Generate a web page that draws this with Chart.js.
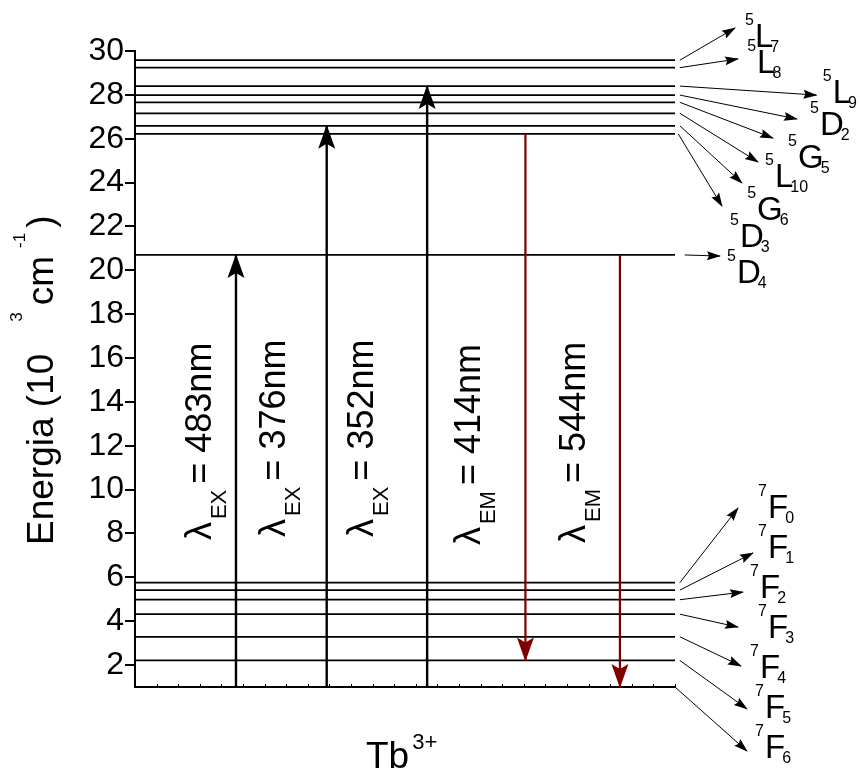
<!DOCTYPE html>
<html>
<head>
<meta charset="utf-8">
<title>Tb3+ energy levels</title>
<script src="https://cdn.jsdelivr.net/npm/chart.js@4.4.1/dist/chart.umd.min.js"></script>
<style>
  html, body { margin: 0; padding: 0; background: #fff; }
  canvas { display: block; }
</style>
</head>
<body>
<canvas id="levels" width="860" height="769"></canvas>
<script>
const FONT = '"Liberation Sans", Arial, sans-serif';
const RED = "#800000";

// Tb3+ levels, energy in 10^3 cm^-1, with term symbol parts
const levelEnergy = [29.58, 29.24, 28.40, 27.99, 27.66, 27.16, 26.59, 26.22, 20.70,
                     5.76, 5.42, 4.98, 4.32, 3.29, 2.21, 1.00];
const levelSpin = ["5", "5", "5", "5", "5", "5", "5", "5", "5",
                   "7", "7", "7", "7", "7", "7", "7"];
const levelLetter = ["L", "L", "L", "D", "G", "L", "G", "D", "D",
                     "F", "F", "F", "F", "F", "F", "F"];
const levelJ = ["7", "8", "9", "2", "5", "10", "6", "3", "4",
                "0", "1", "2", "3", "4", "5", "6"];

// excitation (up) and emission (down) transitions
const transNm = ["483nm", "376nm", "352nm", "414nm", "544nm"];
const transType = ["EX", "EX", "EX", "EM", "EM"];
const transX = [18.7, 35.5, 54.1, 72.3, 89.8];
const transFrom = [1.00, 1.00, 1.00, 26.22, 20.70];
const transTo = [20.70, 26.59, 28.40, 2.21, 1.00];

const yTicks = [2, 4, 6, 8, 10, 12, 14, 16, 18, 20, 22, 24, 26, 28, 30];

// label placement, in axis units (x beyond 100 is right of the levels)
const termLabelAt = [
  [114.8, 30.18], [115.2, 29.00], [129.2, 27.63], [126.85, 26.17], [122.78, 24.66],
  [118.52, 23.80], [115.19, 22.29], [112.04, 21.06], [111.48, 19.42],
  [117.22, 8.70], [117.22, 6.88], [115.74, 5.06], [117.22, 3.23],
  [115.74, 1.41], [116.67, -0.41], [116.67, -2.24]
];
const leaderTip = [
  [111.11, 31.05], [111.67, 29.64], [126.2, 27.99], [122.59, 26.90], [118.15, 26.03],
  [115.37, 24.94], [112.41, 23.98], [108.70, 22.93], [108.33, 20.65],
  [111.67, 9.16], [114.44, 7.11], [112.59, 5.33], [111.67, 3.73],
  [112.22, 1.96], [113.33, 0.00], [113.33, -1.92]
];
const leaderStartX = [100.9, 100.9, 100.9, 100.9, 100.9, 100.9, 100.9, 100.6, 101.8,
                      100.9, 100.9, 100.9, 100.9, 100.9, 100.9, 100.0];
const transLabelAt = [[14.07, 7.70], [27.78, 7.84], [44.07, 7.84], [63.89, 7.47], [83.33, 7.57]];

Chart.defaults.font.family = FONT;
Chart.defaults.color = "#000";

function drawRich(ctx, x, y, parts, angle) {
  ctx.save();
  ctx.translate(x, y);
  ctx.rotate(angle || 0);
  ctx.textBaseline = "alphabetic";
  ctx.textAlign = "left";
  let cx = 0;
  for (const p of parts) {
    ctx.font = p.size + "px " + FONT;
    cx += p.gap || 0;
    ctx.fillText(p.t, cx, p.dy || 0);
    cx += ctx.measureText(p.t).width;
  }
  ctx.restore();
}

function arrowHead(ctx, x0, y0, x1, y1, len, half, notch, color) {
  const d = Math.hypot(x1 - x0, y1 - y0);
  const ux = (x1 - x0) / d, uy = (y1 - y0) / d;
  const nx = -uy, ny = ux;
  const tx = x1 + ux, ty = y1 + uy;
  const bx = tx - ux * len, by = ty - uy * len;
  ctx.save();
  ctx.fillStyle = color;
  ctx.beginPath();
  ctx.moveTo(tx, ty);
  ctx.lineTo(bx + nx * half, by + ny * half);
  ctx.lineTo(tx - ux * (len - notch), ty - uy * (len - notch));
  ctx.lineTo(bx - nx * half, by - ny * half);
  ctx.closePath();
  ctx.fill();
  ctx.restore();
}

const diagram = {
  id: "diagram",
  afterDraw(chart) {
    const { ctx, chartArea: area, scales: { x, y } } = chart;

    // small inward ticks along the bottom axis
    ctx.save();
    ctx.strokeStyle = "#000";
    ctx.lineWidth = 1;
    x.ticks.forEach(t => {
      const px = Math.round(x.getPixelForValue(t.value)) + 0.5;
      ctx.beginPath();
      ctx.moveTo(px, area.bottom);
      ctx.lineTo(px, area.bottom - 3);
      ctx.stroke();
    });
    ctx.restore();

    // heads of the transition arrows
    transX.forEach((_, i) => {
      const pts = chart.getDatasetMeta(i).data;
      const col = transType[i] === "EM" ? RED : "#000";
      arrowHead(ctx, pts[0].x, pts[0].y, pts[1].x, pts[1].y, 24, 8.5, 5, col);
    });

    // wavelength labels, written upward
    ctx.fillStyle = "#000";
    transNm.forEach((nm, i) => {
      const [ax, ay] = transLabelAt[i];
      drawRich(ctx, x.getPixelForValue(ax), y.getPixelForValue(ay), [
        { t: "\u03bb", size: 36 },
        { t: transType[i], size: 22, dy: 15, gap: 3 },
        { t: "=", size: 36, gap: 6 },
        { t: nm, size: 36, gap: 10 }
      ], -Math.PI / 2);
    });

    // leaders from each level to its term symbol
    levelEnergy.forEach((e, i) => {
      const sx = x.getPixelForValue(leaderStartX[i]);
      const sy = y.getPixelForValue(e);
      const tx = x.getPixelForValue(leaderTip[i][0]);
      const ty = y.getPixelForValue(leaderTip[i][1]);
      ctx.save();
      ctx.strokeStyle = "#000";
      ctx.lineWidth = 1;
      ctx.beginPath();
      ctx.moveTo(sx, sy);
      ctx.lineTo(tx, ty);
      ctx.stroke();
      ctx.restore();
      arrowHead(ctx, sx, sy, tx, ty, 14, 4.5, 2, "#000");

      const lx = x.getPixelForValue(termLabelAt[i][0]);
      const ly = y.getPixelForValue(termLabelAt[i][1]);
      ctx.save();
      ctx.fillStyle = "#000";
      ctx.textBaseline = "alphabetic";
      ctx.font = "16px " + FONT;
      ctx.textAlign = "right";
      ctx.fillText(levelSpin[i], lx - 1, ly - 22);
      ctx.font = "33px " + FONT;
      ctx.textAlign = "left";
      ctx.fillText(levelLetter[i], lx, ly);
      const w = ctx.measureText(levelLetter[i]).width;
      ctx.font = "16px " + FONT;
      ctx.fillText(levelJ[i], lx + w - 3, ly + 5);
      ctx.restore();
    });

    // axis titles
    ctx.fillStyle = "#000";
    drawRich(ctx, area.left - 82, area.bottom - 142, [
      { t: "Energia (10", size: 37 },
      { t: "3", size: 17, dy: -31, gap: 32 },
      { t: "cm", size: 37, gap: 7 },
      { t: "-1", size: 17, dy: -28, gap: 8 },
      { t: ")", size: 37, gap: 5 }
    ], -Math.PI / 2);
    drawRich(ctx, area.left + 231, area.bottom + 81, [
      { t: "Tb", size: 37 },
      { t: "3+", size: 22, dy: -19, gap: 3 }
    ]);
  }
};

const datasets = [];
transX.forEach((xv, i) => {
  const em = transType[i] === "EM";
  datasets.push({
    data: [{ x: xv, y: transFrom[i] }, { x: xv, y: transTo[i] }],
    borderColor: em ? RED : "#000",
    borderWidth: em ? 2.2 : 2.4
  });
});
levelEnergy.forEach(e => {
  datasets.push({
    data: [{ x: 0, y: e }, { x: 100, y: e }],
    borderColor: "#000",
    borderWidth: 1.8
  });
});
datasets.forEach(d => Object.assign(d, { showLine: true, pointRadius: 0, fill: false, clip: false }));

new Chart(document.getElementById("levels"), {
  type: "scatter",
  data: { datasets },
  options: {
    responsive: false,
    animation: false,
    events: [],
    layout: { padding: { left: 70, right: 185, top: 51, bottom: 82 } },
    plugins: { legend: { display: false }, tooltip: { enabled: false } },
    scales: {
      x: {
        type: "linear",
        min: 0,
        max: 100,
        ticks: { display: false, stepSize: 4 },
        grid: { display: false, drawTicks: false },
        border: { display: true, color: "#000", width: 2 },
        afterFit: s => { s.height = 0; }
      },
      y: {
        type: "linear",
        min: 1,
        max: 30,
        afterBuildTicks: s => { s.ticks = yTicks.map(v => ({ value: v })); },
        ticks: { font: { size: 32 }, color: "#000", padding: 1 },
        grid: { drawOnChartArea: false, drawTicks: true, tickLength: 10, color: "#000", lineWidth: 2 },
        border: { display: true, color: "#000", width: 2 },
        afterFit: s => { s.width = 65; }
      }
    }
  },
  plugins: [diagram]
});
</script>
</body>
</html>
